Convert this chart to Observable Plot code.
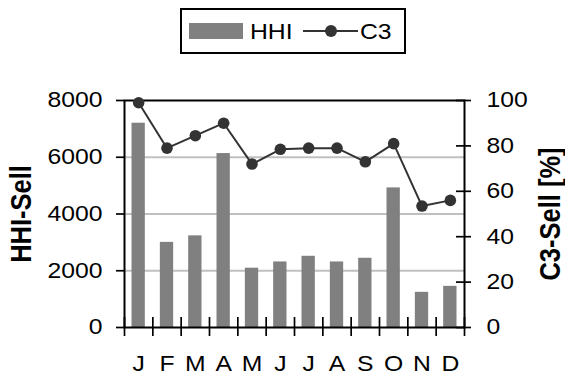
<!DOCTYPE html>
<html>
<head>
<meta charset="utf-8">
<script src="https://cdn.jsdelivr.net/npm/d3@7"></script>
<script src="https://cdn.jsdelivr.net/npm/@observablehq/plot@0.6"></script>
<style>
  html, body { margin: 0; padding: 0; background: #fff; }
  #wrap { position: relative; width: 565px; height: 376px; font-family: "Liberation Sans", Arial, sans-serif; }
  #legend { position: absolute; left: 180px; top: 8px; width: 226px; height: 46px; border: 2px solid #000; box-sizing: border-box; background: #fff; }
  #legend .sw { position: absolute; left: 7px; top: 13px; width: 54px; height: 16px; background: #808080; }
  #legend .lab { position: absolute; top: 11.5px; font-size: 21.5px; line-height: 21.5px; color: #000; transform: scaleX(1.15); transform-origin: left center; white-space: nowrap; }
  #legend .ln { position: absolute; left: 121px; top: 20px; width: 55px; height: 2px; background: #333; }
  #legend .dt { position: absolute; left: 143px; top: 15px; width: 12px; height: 12px; border-radius: 50%; background: #333; }
</style>
</head>
<body>
<div id="wrap">
  <div id="chart"></div>
  <div id="legend">
    <div class="sw"></div>
    <div class="lab" style="left:68px">HHI</div>
    <div class="ln"></div>
    <div class="dt"></div>
    <div class="lab" style="left:178px">C3</div>
  </div>
</div>
<script>
// ---- data ----
const months = ["J", "F", "M", "A", "M", "J", "J", "A", "S", "O", "N", "D"];
const hhi = [7200, 3000, 3230, 6130, 2090, 2310, 2510, 2310, 2440, 4920, 1240, 1450];
const c3 = [99, 79, 84.5, 90, 72, 78.5, 79, 79, 73, 81, 53.5, 56];
const leftTicks = [0, 2000, 4000, 6000, 8000];
const rightTicks = [0, 20, 40, 60, 80, 100];
const gridTicks = [2000, 4000, 6000];
const yTitle = "HHI-Sell";
const y2Title = "C3-Sell [%]";

// ---- derived ----
const ratio = 8000 / 100; // right axis mapped onto left scale
const idx = months.map((_, i) => i);
const rows = idx.map(i => ({i, month: months[i], hhi: hhi[i], c3: c3[i]}));
const bounds = [...idx.map(i => i - 0.5), months.length - 0.5];

const chart = Plot.plot({
  width: 565,
  height: 376,
  marginTop: 100,
  marginBottom: 49,
  marginLeft: 124,
  marginRight: 101,
  style: {fontFamily: "'Liberation Sans', Arial, sans-serif", fontSize: "21.5px", color: "#000", background: "#fff", overflow: "visible"},
  x: {domain: [-0.5, months.length - 0.5]},
  y: {domain: [0, 8000]},
  marks: [
    Plot.ruleY(gridTicks, {stroke: "#c0c0c0", strokeWidth: 2}),
    Plot.rectY(rows, {x1: d => d.i - 0.235, x2: d => d.i + 0.235, y: "hhi", fill: "#808080"}),
    Plot.frame({stroke: "#000", strokeWidth: 2}),
    Plot.tickX(bounds, {x: d => d, insetTop: 217, insetBottom: -9, stroke: "#000", strokeWidth: 1.7}),
    Plot.tickY(rightTicks, {y: d => d * ratio, insetLeft: 332, insetRight: -7, stroke: "#000", strokeWidth: 1.7}),
    Plot.axisY({anchor: "left", ticks: leftTicks, tickFormat: v => String(v), tickSize: 8, tickPadding: 14, label: null, strokeWidth: 1.7}),
    Plot.axisY({anchor: "right", ticks: rightTicks.map(v => v * ratio), tickFormat: v => String(Math.round(v / ratio)), tickSize: 0, tickPadding: 22, label: null}),
    Plot.axisX({ticks: idx, tickFormat: i => months[i], tickSize: 0, tickPadding: 28, label: null}),
    Plot.line(rows, {x: "i", y: d => d.c3 * ratio, stroke: "#333", strokeWidth: 2}),
    Plot.dot(rows, {x: "i", y: d => d.c3 * ratio, r: 5.8, fill: "#333", stroke: "none"}),
    Plot.text([yTitle], {frameAnchor: "left", textAnchor: "middle", lineAnchor: "middle", dx: -103, rotate: -90, fontWeight: "bold", fontSize: 25.5, fill: "#000"}),
    Plot.text([y2Title], {frameAnchor: "right", textAnchor: "middle", lineAnchor: "middle", dx: 86, rotate: -90, fontWeight: "bold", fontSize: 25.5, fill: "#000"})
  ]
});

// widen glyphs horizontally (reference text is horizontally stretched)
const S = 1.15;
chart.querySelectorAll("text").forEach(t => {
  const tr = t.getAttribute("transform");
  if (tr && tr.includes("rotate")) {
    t.setAttribute("transform", tr + ` scale(1,${S})`);
  } else if (tr) {
    t.setAttribute("transform", tr + ` scale(${S},1)`);
  } else {
    const x = +t.getAttribute("x") || 0;
    t.setAttribute("transform", `translate(${x},0) scale(${S},1) translate(${-x},0)`);
  }
});

document.getElementById("chart").appendChild(chart);
</script>
</body>
</html>
